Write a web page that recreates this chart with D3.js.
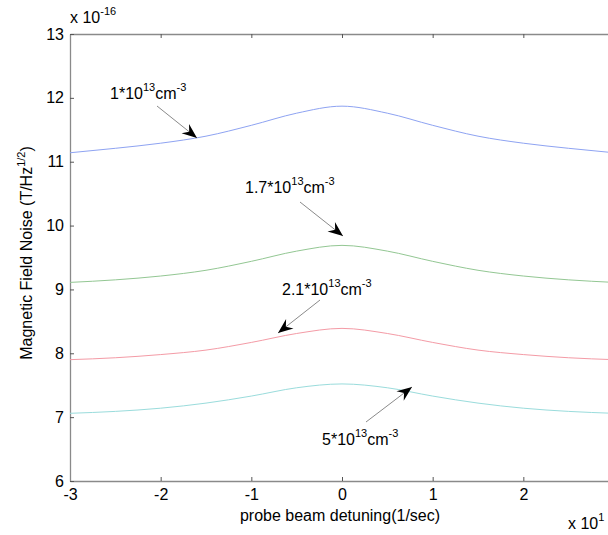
<!DOCTYPE html>
<html>
<head>
<meta charset="UTF-8" />
<title>Magnetic Field Noise</title>
<script src="https://cdn.jsdelivr.net/npm/d3@7/dist/d3.min.js"></script>
<style>
body{margin:0;background:#fff;}
svg text{font-family:"Liberation Sans",Arial,sans-serif;fill:#000;}
</style>
</head>
<body>
<div id="chart"></div>
<script type="text/javascript">
var w=608,h=535;

// detuning (x 10^1 1/sec)
var detuning=[-3,-2.5,-2,-1.5,-1,-0.5,0,0.5,1,1.5,2,2.5,3];
// noise values (x 10^-16 T/Hz^1/2)
var noise1=[11.14,11.21,11.29,11.40,11.57,11.76,11.87,11.76,11.57,11.40,11.29,11.21,11.14];
var noise17=[9.11,9.15,9.21,9.30,9.44,9.60,9.69,9.60,9.44,9.30,9.21,9.15,9.11];
var noise21=[7.90,7.93,7.98,8.05,8.17,8.31,8.39,8.31,8.17,8.05,7.98,7.93,7.90];
var noise5=[7.06,7.09,7.14,7.22,7.33,7.46,7.52,7.46,7.33,7.22,7.14,7.09,7.06];
var lineColors=['#8ea3f2','#93c793','#f49ba6','#9adcdc'];

var xTicks=[-3,-2,-1,0,1,2,3];
var yTicks=[6,7,8,9,10,11,12,13];

var svg=d3.select('#chart').append('svg')
          .attr('width',w)
          .attr('height',h);

var x=d3.scaleLinear().domain([-3,3]).range([70,614]);
var y=d3.scaleLinear().domain([6,13]).range([481,34]);

function fmt(d){return String(d);}   // plain hyphen minus, like matlab

// axes
var gb=svg.append('g').attr('transform','translate(0,'+y(6)+')')
  .call(d3.axisBottom(x).tickValues(xTicks).tickSizeInner(-4).tickSizeOuter(0).tickPadding(8).tickFormat(fmt));
var gt=svg.append('g').attr('transform','translate(0,'+y(13)+')')
  .call(d3.axisTop(x).tickValues(xTicks).tickSizeInner(-4).tickSizeOuter(0).tickFormat(''));
var gl=svg.append('g').attr('transform','translate('+x(-3)+',0)')
  .call(d3.axisLeft(y).tickValues(yTicks).tickSizeInner(-4).tickSizeOuter(0).tickPadding(6).tickFormat(fmt));

[gb,gt,gl].forEach(function(g){
  g.select('.domain').attr('stroke','#8a8a8a').attr('stroke-width',1.3);
  g.selectAll('.tick line').attr('stroke','#555').attr('stroke-width',1);
  g.selectAll('.tick text').style('font-size','16px').attr('fill','#000');
});
// the 3 label falls outside the window in the original
gb.selectAll('.tick text').filter(function(d){return d===3;}).remove();

// curves
var line=d3.line()
  .x(function(d){return x(d[0]);})
  .y(function(d){return y(d[1]);})
  .curve(d3.curveMonotoneX);

[noise1,noise17,noise21,noise5].forEach(function(s,i){
  svg.append('path')
     .datum(detuning.map(function(d,j){return [d,s[j]];}))
     .attr('fill','none')
     .attr('stroke',lineColors[i])
     .attr('stroke-width',1)
     .attr('d',line);
});

// exponent labels
function expLabel(xp,yp,base,exp){
  var t=svg.append('text').attr('x',xp).attr('y',yp).style('font-size','16px');
  t.append('tspan').text(base);
  t.append('tspan').attr('dy',-8).style('font-size','11px').text(exp);
  return t;
}
expLabel(70,23,'x 10','-16');
expLabel(568,529,'x 10','1');

svg.append('text')
   .attr('x',340).attr('y',521)
   .attr('text-anchor','middle')
   .style('font-size','16px')
   .text('probe beam detuning(1/sec)');

var yl=svg.append('text')
   .attr('transform','translate(32,253) rotate(-90)')
   .attr('text-anchor','middle')
   .style('font-size','16px');
yl.append('tspan').text('Magnetic Field Noise (T/Hz');
yl.append('tspan').attr('dy',-7).style('font-size','11px').text('1/2');
yl.append('tspan').attr('dy',7).text(')');

// annotations
svg.append('defs').append('marker')
   .attr('id','head')
   .attr('viewBox','-16 -8 18 16')
   .attr('refX',0).attr('refY',0)
   .attr('markerWidth',18).attr('markerHeight',16)
   .attr('markerUnits','userSpaceOnUse')
   .attr('orient','auto')
   .append('path')
   .attr('d','M0,0 L-15,-6 L-10,0 L-15,6 Z')
   .attr('fill','#000');

var notes=[
  {label:'1*10',x0:157,y0:106,x1:197,y1:138,tx:110,ty:99},
  {label:'1.7*10',x0:300,y0:202,x1:343,y1:236,tx:245,ty:193},
  {label:'2.1*10',x0:320,y0:300,x1:278,y1:333,tx:282,ty:295},
  {label:'5*10',x0:366,y0:422,x1:412,y1:387,tx:322,ty:445}
];
notes.forEach(function(n){
  svg.append('line')
     .attr('x1',n.x0).attr('y1',n.y0).attr('x2',n.x1).attr('y2',n.y1)
     .attr('stroke','#8a8a8a').attr('stroke-width',1)
     .attr('marker-end','url(#head)');
  var t=svg.append('text').attr('x',n.tx).attr('y',n.ty).style('font-size','16px');
  t.append('tspan').text(n.label);
  t.append('tspan').attr('dy',-8).style('font-size','11px').text('13');
  t.append('tspan').attr('dy',8).text('cm');
  t.append('tspan').attr('dy',-8).style('font-size','11px').text('-3');
});
</script>
</body>
</html>
